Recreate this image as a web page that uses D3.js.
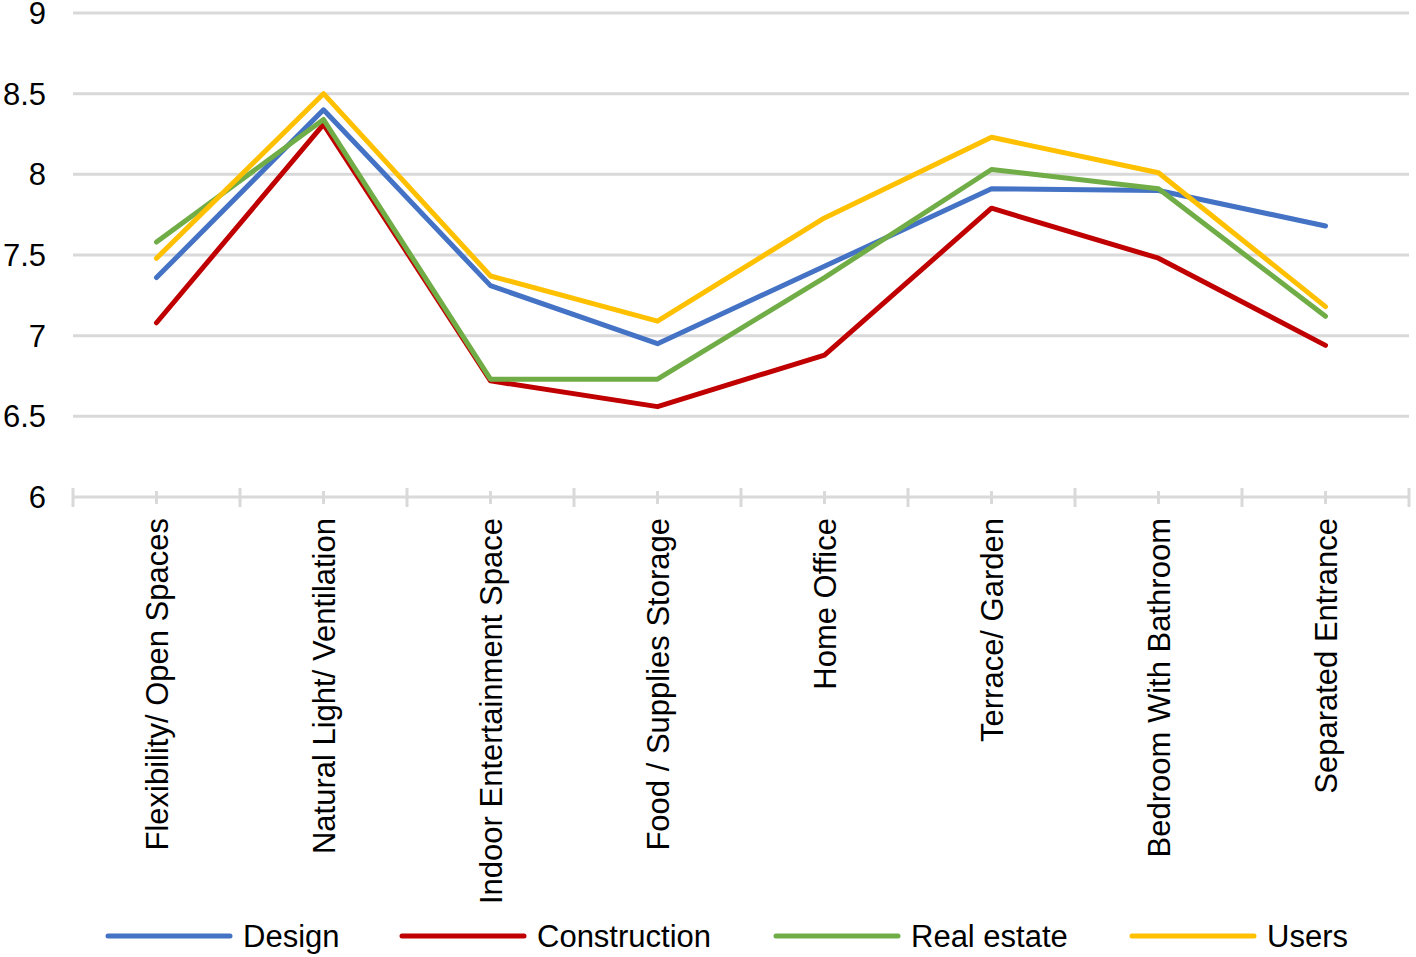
<!DOCTYPE html>
<html lang="en">
<head>
    <meta charset="UTF-8">
    <title>Home features by group</title>
    <script src="https://d3js.org/d3.v7.min.js"></script>
    <style>
        body { margin: 0; background: #fff; }
        text { font-family: "Liberation Sans", Arial, sans-serif; fill: #000; }
        .grid line { stroke: #d9d9d9; stroke-width: 3px; }
        .series { fill: none; stroke-width: 5px; stroke-linejoin: round; stroke-linecap: round; }
    </style>
</head>
<body>
    <div id="chart"></div>

    <script>
        // data
        const categories = [
            'Flexibility/ Open Spaces',
            'Natural Light/ Ventilation',
            'Indoor Entertainment Space',
            'Food / Supplies Storage',
            'Home Office',
            'Terrace/ Garden',
            'Bedroom With Bathroom',
            'Separated Entrance'
        ];
        const seriesNames = ['Design', 'Construction', 'Real estate', 'Users'];
        const design       = [7.36, 8.40, 7.31, 6.95, 7.43, 7.91, 7.90, 7.68];
        const construction = [7.08, 8.31, 6.72, 6.56, 6.88, 7.79, 7.48, 6.94];
        const realEstate   = [7.58, 8.34, 6.73, 6.73, 7.36, 8.03, 7.91, 7.12];
        const users        = [7.48, 8.50, 7.37, 7.09, 7.73, 8.23, 8.01, 7.18];
        const yTicks = [6, 6.5, 7, 7.5, 8, 8.5, 9];
        const colors = ['#4472C4', '#C00000', '#70AD47', '#FFC000'];

        const width = 1416;
        const height = 957;
        const fontSize = 31;

        const svg = d3.select('#chart').append('svg')
            .attr('width', width)
            .attr('height', height);

        const x = d3.scaleBand()
            .domain(categories)
            .range([73, 1409]);

        const y = d3.scaleLinear()
            .domain([6, 9])
            .range([497, 13]);

        // horizontal gridlines
        svg.append('g')
            .attr('class', 'grid')
            .selectAll('line')
            .data(yTicks.slice(1))
            .enter().append('line')
            .attr('x1', 73)
            .attr('x2', 1409)
            .attr('y1', d => y(d))
            .attr('y2', d => y(d));

        // y tick labels
        svg.append('g')
            .selectAll('text')
            .data(yTicks)
            .enter().append('text')
            .attr('x', 46)
            .attr('y', d => y(d))
            .attr('dy', '0.36em')
            .attr('text-anchor', 'end')
            .style('font-size', fontSize + 'px')
            .text(d => d);

        // x axis line + ticks (major at band edges, minor at centres)
        const axis = svg.append('g').attr('class', 'grid');
        axis.append('line')
            .attr('x1', 73).attr('x2', 1409)
            .attr('y1', y(6)).attr('y2', y(6));

        const edges = categories.map(c => x(c)).concat([x.range()[1]]);
        axis.selectAll('.major')
            .data(edges)
            .enter().append('line')
            .attr('class', 'major')
            .attr('x1', d => d).attr('x2', d => d)
            .attr('y1', y(6) - 9).attr('y2', y(6) + 10);

        axis.selectAll('.minor')
            .data(categories)
            .enter().append('line')
            .attr('class', 'minor')
            .attr('x1', d => x(d) + x.bandwidth() / 2)
            .attr('x2', d => x(d) + x.bandwidth() / 2)
            .attr('y1', y(6) - 6).attr('y2', y(6) + 7);

        // rotated category labels
        svg.append('g')
            .selectAll('text')
            .data(categories)
            .enter().append('text')
            .attr('transform', d => `translate(${x(d) + x.bandwidth() / 2 + 11},518) rotate(-90)`)
            .attr('text-anchor', 'end')
            .style('font-size', fontSize + 'px')
            .text(d => d);

        // series lines
        const allSeries = [design, construction, realEstate, users];
        const line = d3.line()
            .x((d, i) => x(categories[i]) + x.bandwidth() / 2)
            .y(d => y(d));

        svg.append('g')
            .selectAll('path')
            .data(allSeries)
            .enter().append('path')
            .attr('class', 'series')
            .attr('stroke', (d, i) => colors[i])
            .attr('d', line);

        // legend
        const legendX = [108, 402, 776, 1132];
        const legend = svg.append('g')
            .selectAll('g')
            .data(seriesNames)
            .enter().append('g')
            .attr('transform', (d, i) => `translate(${legendX[i]},936)`);

        legend.append('line')
            .attr('x1', 0).attr('x2', 122)
            .attr('y1', 0).attr('y2', 0)
            .attr('stroke', (d, i) => colors[i])
            .attr('stroke-width', 5)
            .attr('stroke-linecap', 'round');

        legend.append('text')
            .attr('x', 135)
            .attr('dy', '0.36em')
            .style('font-size', fontSize + 'px')
            .text(d => d);
    </script>
</body>
</html>
